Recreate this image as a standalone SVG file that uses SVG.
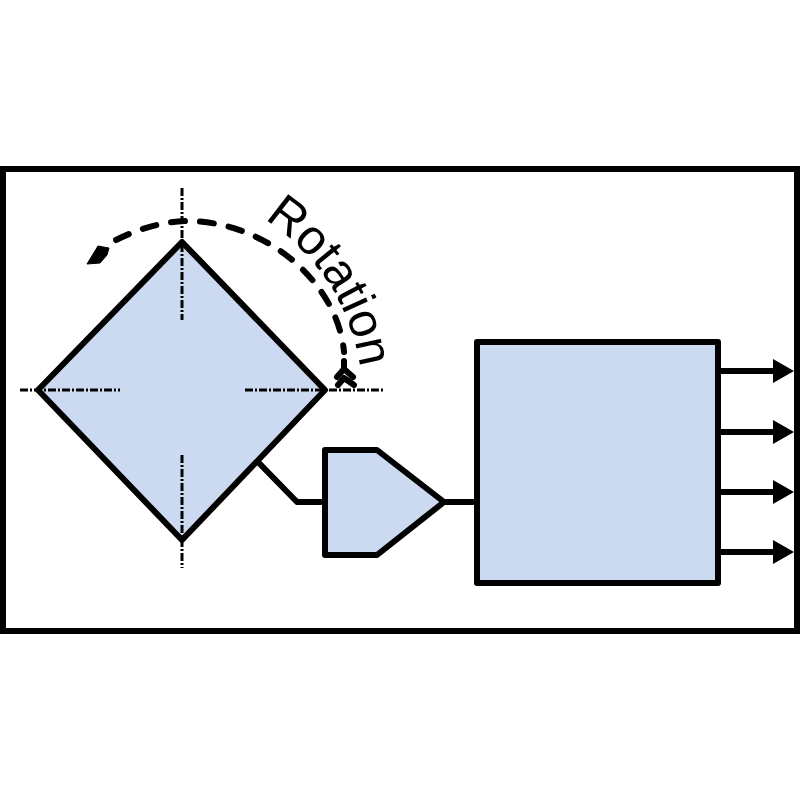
<svg xmlns="http://www.w3.org/2000/svg" width="800" height="800" viewBox="0 0 800 800">
<defs>
<style>
.box{fill:#cbdaf0;stroke:#000;stroke-width:6;stroke-linejoin:round}
.wire{fill:none;stroke:#000;stroke-width:6;stroke-linecap:round;stroke-linejoin:round}
.axis{fill:none;stroke:#000;stroke-width:3;stroke-dasharray:8 2 2 2}
.rot{fill:none;stroke:#000;stroke-width:6;stroke-dasharray:14 15;stroke-linecap:round}
.label{font-family:"Liberation Sans",Arial,sans-serif;font-size:49px;fill:#000}
</style>
<marker id="head" markerUnits="userSpaceOnUse" markerWidth="23" markerHeight="26" refX="0" refY="12" orient="auto"><path d="M0 0L21 12L0 24Z" fill="#000"/></marker>
<path id="labelArc" d="M264 219Q344 272 360 366" fill="none"/>
</defs>
<rect id="frame" x="3" y="169" width="794" height="462" fill="#fff" stroke="#000" stroke-width="6"/>
<g id="diamond"><path class="box" d="M182 242L325 390L182 540L38 390Z"/></g>
<g id="amplifier"><path class="box" d="M325 450H377L444 502L377 555H325Z"/></g>
<g id="processor"><rect class="box" x="477" y="342" width="241" height="241"/></g>
<g id="axes">
<path class="axis" d="M182 188V320"/>
<path class="axis" d="M182 455V568"/>
<path class="axis" d="M20 390H120"/>
<path class="axis" d="M245 390H385"/>
</g>
<g id="connectors">
<path class="wire" d="M258 462L297 502H325"/>
<path class="wire" d="M444 502H477"/>
<path class="wire" d="M718 371H773" marker-end="url(#head)"/>
<path class="wire" d="M718 432H773" marker-end="url(#head)"/>
<path class="wire" d="M718 492H773" marker-end="url(#head)"/>
<path class="wire" d="M718 552H773" marker-end="url(#head)"/>
<path class="rot" d="M116 240C140 228 165 221 190 221C270 223 338 285 344 352"/>
<path d="M344 361V370" class="wire"/>
<path d="M337 377L344 369L353 377" class="wire"/>
<path d="M338 385L344 378L354 385" class="wire"/>
<path d="M87 264L98 246L109 248L107 255L100 263Z" fill="#000" stroke="#000" stroke-width="1"/>
</g>
<text class="label"><textPath href="#labelArc">Rotation</textPath></text>
</svg>
